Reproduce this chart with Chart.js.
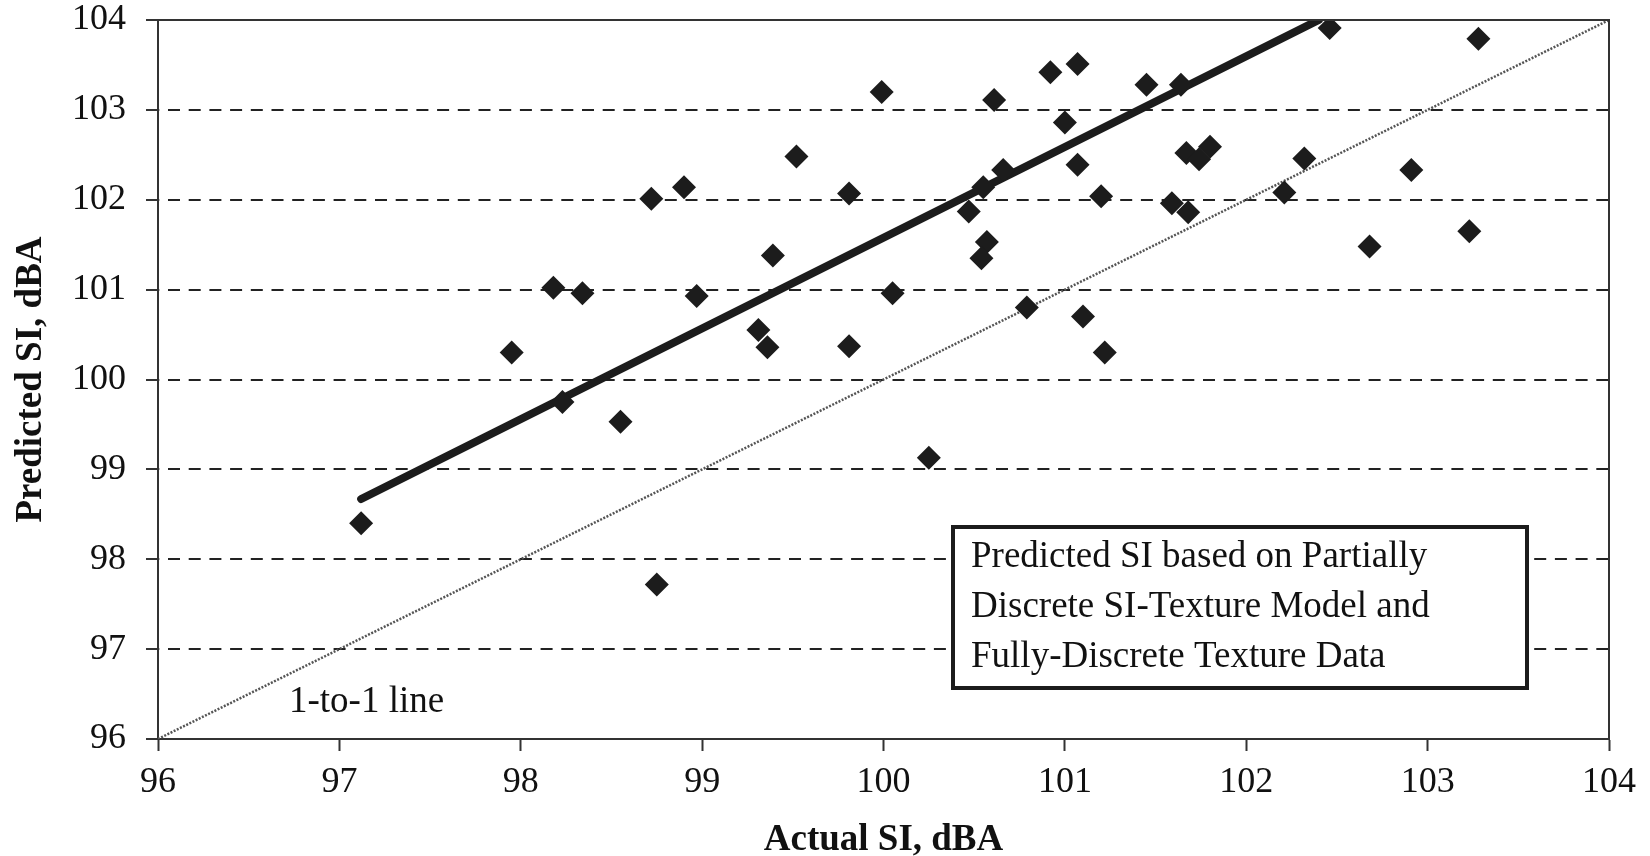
<!DOCTYPE html>
<html>
<head>
<meta charset="utf-8">
<title>Predicted vs Actual SI</title>
<script src="https://cdn.jsdelivr.net/npm/chart.js@4.4.1/dist/chart.umd.min.js"></script>
<style>
  html, body { margin: 0; padding: 0; background: #fff; }
  #wrap { width: 1650px; height: 856px; position: relative; }
</style>
</head>
<body>
<div id="wrap"><canvas id="siChart"></canvas></div>
<script>
// measured vs predicted sound intensity, dBA
const actualSI = [
  97.12, 97.95, 98.18, 98.34, 98.23, 98.55, 98.72, 98.90, 98.75, 98.97,
  99.31, 99.36, 99.39, 99.52, 99.81, 99.81, 99.99, 100.05, 100.25, 100.47,
  100.55, 100.66, 100.57, 100.54, 100.61, 100.79, 100.92, 101.07, 101.00, 101.07,
  101.10, 101.20, 101.22, 101.45, 101.64, 101.67, 101.74, 101.80, 101.59, 101.68,
  102.21, 102.32, 102.46, 102.91, 102.68, 103.23, 103.28
];
const predictedSI = [
  98.40, 100.30, 101.02, 100.96, 99.75, 99.53, 102.01, 102.14, 97.72, 100.93,
  100.55, 100.36, 101.38, 102.48, 102.07, 100.37, 103.20, 100.96, 99.13, 101.87,
  102.14, 102.33, 101.53, 101.35, 103.11, 100.80, 103.42, 103.51, 102.86, 102.39,
  100.70, 102.04, 100.30, 103.28, 103.28, 102.52, 102.45, 102.59, 101.96, 101.86,
  102.08, 102.46, 103.91, 102.33, 101.48, 101.65, 103.79
];

// fitted trend and the 1-to-1 reference
const fitX = [97.12, 102.40];
const fitY = [98.67, 104.00];
const unityLine = [96, 104];

const noteLines = [
  'Predicted SI based on Partially',
  'Discrete SI-Texture Model and',
  'Fully-Discrete Texture Data'
];
const unityLabel = '1-to-1 line';

const SERIF = '"Liberation Serif", "Times New Roman", serif';
const INK = '#1c1c1c';
const AXIS = '#333';

// top/right frame, the boxed note and the 1-to-1 label
const annotations = {
  id: 'annotations',
  afterDraw(chart) {
    const { ctx, chartArea: a } = chart;
    ctx.save();
    ctx.strokeStyle = AXIS;
    ctx.lineWidth = 2;
    ctx.beginPath();
    ctx.moveTo(a.left, a.top);
    ctx.lineTo(a.right, a.top);
    ctx.lineTo(a.right, a.bottom);
    ctx.stroke();

    // note box
    const bx = a.left + 795, by = a.top + 507, bw = 574, bh = 161;
    ctx.fillStyle = '#fff';
    ctx.fillRect(bx, by, bw, bh);
    ctx.strokeStyle = INK;
    ctx.lineWidth = 4;
    ctx.strokeRect(bx, by, bw, bh);

    ctx.fillStyle = '#111';
    ctx.font = '37px ' + SERIF;
    ctx.textAlign = 'left';
    ctx.textBaseline = 'alphabetic';
    noteLines.forEach((t, i) => ctx.fillText(t, bx + 18, by + 40 + i * 50));

    ctx.fillText(unityLabel, a.left + 131, a.top + 692);
    ctx.restore();
  }
};

new Chart(document.getElementById('siChart'), {
  type: 'scatter',
  data: {
    datasets: [
      {
        data: actualSI.map((v, i) => ({ x: v, y: predictedSI[i] })),
        pointStyle: 'rectRot',
        pointRadius: 12,
        backgroundColor: INK,
        borderWidth: 0,
        order: 0
      },
      {
        data: fitX.map((v, i) => ({ x: v, y: fitY[i] })),
        showLine: true,
        borderColor: INK,
        borderWidth: 8,
        borderCapStyle: 'round',
        pointRadius: 0,
        order: 1
      },
      {
        data: unityLine.map(v => ({ x: v, y: v })),
        showLine: true,
        borderColor: '#555',
        borderWidth: 2.5,
        borderDash: [2, 1.5],
        pointRadius: 0,
        order: 2
      }
    ]
  },
  options: {
    responsive: true,
    maintainAspectRatio: false,
    animation: false,
    events: [],
    layout: { padding: { top: 20, right: 39, left: 0, bottom: 0 } },
    plugins: { legend: { display: false }, tooltip: { enabled: false } },
    scales: {
      x: {
        type: 'linear',
        min: 96,
        max: 104,
        ticks: {
          stepSize: 1,
          maxRotation: 0,
          padding: 14,
          color: '#111',
          font: { family: SERIF, size: 36, lineHeight: 1 }
        },
        grid: {
          drawOnChartArea: false,
          tickLength: 12,
          tickColor: AXIS,
          tickWidth: 2
        },
        border: { color: AXIS, width: 2 },
        title: {
          display: true,
          text: 'Actual SI, dBA',
          color: '#111',
          padding: { top: 0, bottom: 0 },
          font: { family: SERIF, size: 37, weight: 'bold', lineHeight: 0.85 }
        },
        afterFit(s) { s.height = 117; }
      },
      y: {
        type: 'linear',
        min: 96,
        max: 104,
        ticks: {
          stepSize: 1,
          padding: 20,
          color: '#111',
          font: { family: SERIF, size: 36, lineHeight: 1 }
        },
        grid: {
          color: c => (c.tick && (c.tick.value === 104 || c.tick.value === 96)) ? 'rgba(0,0,0,0)' : '#222',
          lineWidth: 2,
          tickLength: 12,
          tickColor: AXIS,
          tickWidth: 2,
          tickBorderDash: []
        },
        // in v4 the dash here styles the grid lines; the axis line stays solid
        border: { color: AXIS, width: 2, dash: [12, 8.7], dashOffset: -9 },
        title: {
          display: true,
          text: 'Predicted SI, dBA',
          color: '#111',
          padding: { top: 13, bottom: 0 },
          font: { family: SERIF, size: 37, weight: 'bold', lineHeight: 1 }
        },
        afterFit(s) {
          s.width = 158;
          // keep the label padding from pushing the plot area down
          s.paddingTop = 0;
          s.paddingBottom = 0;
        }
      }
    }
  },
  plugins: [annotations]
});
</script>
</body>
</html>
